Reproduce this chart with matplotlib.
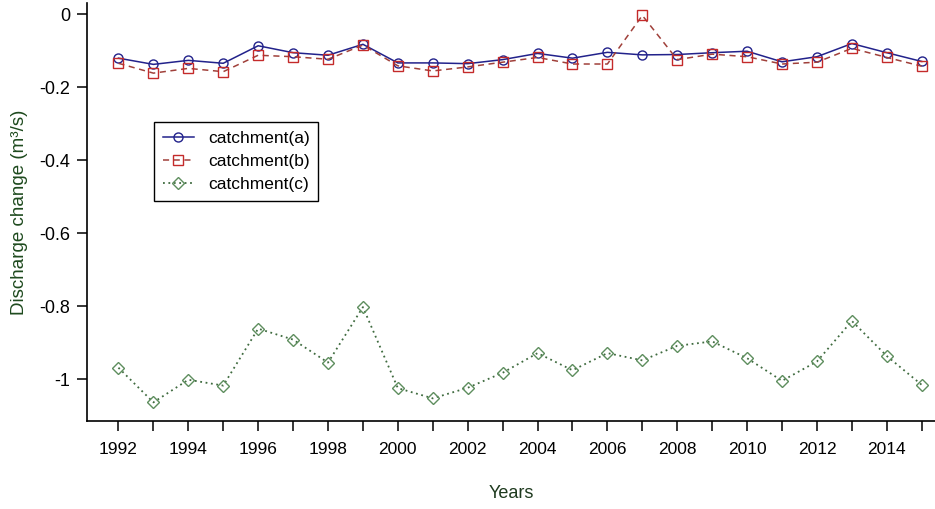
import matplotlib
matplotlib.use("Agg")
import matplotlib.pyplot as plt

plt.rcParams['font.family'] = ['Liberation Sans', 'DejaVu Sans']

years = list(range(1992, 2016))

catchment_a = [-0.121, -0.138, -0.127, -0.135, -0.087, -0.106, -0.113, -0.083,
               -0.134, -0.134, -0.136, -0.125, -0.108, -0.121, -0.105, -0.112,
               -0.111, -0.106, -0.102, -0.131, -0.117, -0.081, -0.106, -0.130]
catchment_b = [-0.135, -0.162, -0.149, -0.158, -0.113, -0.117, -0.124, -0.085,
               -0.142, -0.156, -0.145, -0.132, -0.119, -0.137, -0.137, -0.004,
               -0.125, -0.110, -0.117, -0.137, -0.132, -0.094, -0.119, -0.143]
catchment_c = [-0.969, -1.064, -1.002, -1.018, -0.862, -0.892, -0.955, -0.803,
               -1.025, -1.053, -1.024, -0.983, -0.929, -0.976, -0.929, -0.949,
               -0.909, -0.897, -0.943, -1.005, -0.952, -0.841, -0.937, -1.016]

y_ticks = [0, -0.2, -0.4, -0.6, -0.8, -1.0]
y_labels = ['0', '-0.2', '-0.4', '-0.6', '-0.8', '-1']
x_labels = [str(y) if y % 2 == 0 else '' for y in years]

fig = plt.figure(figsize=(9.35, 5.09), dpi=100)
ax = fig.add_axes([0.0927, 0.1729, 0.9073, 0.8211])

ax.plot(years, catchment_a, color='#22228B', linestyle='-', linewidth=1.1,
        marker='o', markersize=6.5, markerfacecolor='none', markeredgewidth=1,
        label='catchment(a)')
ax.plot(years, catchment_b, color='#A0403A', linestyle=(0, (4, 3)), linewidth=1.1,
        marker='s', markersize=6.5, markerfacecolor='none', markeredgewidth=1,
        markeredgecolor='#C42A2A', label='catchment(b)')
ax.plot(years, catchment_c, color='#3F6B3F', linestyle=(0, (1, 2)), linewidth=1.3,
        marker='D', markersize=6.5, markerfacecolor='none', markeredgewidth=1,
        markeredgecolor='#5E8E5E', label='catchment(c)')

ax.set_xlim(1991.09, 2015.38)
ax.set_ylim(-1.115, 0.03)

ax.set_xticks(years)
ax.set_xticklabels(x_labels)
ax.set_yticks(y_ticks)
ax.set_yticklabels(y_labels)
ax.tick_params(axis='both', length=7, width=1.1, labelsize=12.5, color='black')
ax.tick_params(axis='x', pad=8)
ax.tick_params(axis='y', pad=5, labelsize=13)

for side in ['top', 'right']:
    ax.spines[side].set_visible(False)
for side in ['left', 'bottom']:
    ax.spines[side].set_linewidth(1.2)

ax.set_xlabel('Years', fontsize=13, color='#1E3A1E', labelpad=20)
ax.set_ylabel('Discharge change (m³/s)', fontsize=13.5, color='#1E4A1E', labelpad=8)

leg = ax.legend(loc='upper left', bbox_to_anchor=(0.0793, 0.715), fontsize=12.5,
                frameon=True, fancybox=False, edgecolor='black', framealpha=1,
                handlelength=1.8, handletextpad=0.8, labelspacing=0.45,
                borderpad=0.5, borderaxespad=0)
leg.get_frame().set_linewidth(1.0)

fig.savefig('out.png', dpi=100)
